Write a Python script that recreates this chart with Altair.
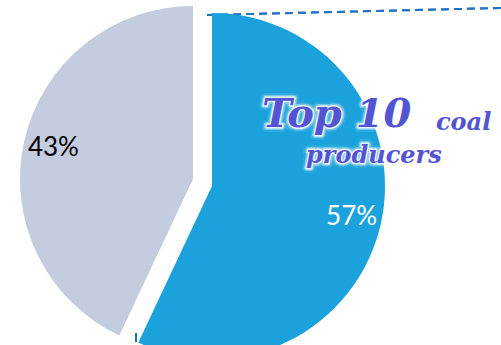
import altair as alt
import pandas as pd

categories = ["Top 10 coal producers", "Rest of world"]
values = [57, 43]
labels = ["57%", "43%"]
colors = ["#1BA2DC", "#C4CDE0"]
label_colors = ["#FFFFFF", "#000000"]

df = pd.DataFrame({"cat": categories, "value": values, "label": labels})
df["end"] = df["value"].cumsum()
df["start"] = df["end"] - df["value"]
df["mid"] = (df["start"] + df["end"]) / 2

R = 173
theta_scale = alt.Scale(domain=[0, 100])
color_scale = alt.Scale(domain=categories, range=colors)

centers = {"Top 10 coal producers": (212, 186), "Rest of world": (193, 179)}

layers = []

# callout dashed lines (decoration)
layers.append(
    alt.Chart(df).mark_rule(color="#2272C3", strokeWidth=2, strokeDash=[8, 5]).encode(
        x=alt.value(207), y=alt.value(15), x2=alt.value(501), y2=alt.value(8)
    )
)
layers.append(
    alt.Chart(df).mark_rule(color="#2272C3", strokeWidth=2, strokeDash=[9, 5]).encode(
        x=alt.value(136), y=alt.value(333), x2=alt.value(136), y2=alt.value(360)
    )
)

for cat in categories:
    cx, cy = centers[cat]
    base = alt.Chart(df).transform_filter(alt.datum.cat == cat)
    layers.append(
        base.mark_arc(radius=R).encode(
            theta=alt.Theta("start:Q", scale=theta_scale, stack=None),
            theta2="end:Q",
            color=alt.Color("cat:N", scale=color_scale, legend=None),
            x=alt.value(cx),
            y=alt.value(cy),
        )
    )

for cat, lc in zip(categories, label_colors):
    cx, cy = centers[cat]
    base = alt.Chart(df).transform_filter(alt.datum.cat == cat)
    layers.append(
        base.mark_text(radius=143, font="Lato", fontSize=26, baseline="middle", align="center").encode(
            theta=alt.Theta("mid:Q", scale=theta_scale, stack=None),
            text="label:N",
            color=alt.value(lc),
            x=alt.value(cx),
            y=alt.value(cy),
        )
    )

title_df = pd.DataFrame({
    "t": ["Top 10", "coal", "producers"],
})

title_pos = [("Top 10", 262, 127, 40), ("coal", 436, 130, 24), ("producers", 306, 163, 24)]
for txt, tx, ty, fs in title_pos:
    tb = alt.Chart(title_df).transform_filter(alt.datum.t == txt)
    for sw, op in [(10, 0.3), (6, 0.6), (3, 0.9)]:
        layers.append(
            tb.mark_text(font="DejaVu Serif", fontWeight="bold", fontStyle="italic", fontSize=fs,
                         align="left", baseline="alphabetic", fill="white", stroke="white",
                         strokeWidth=sw, strokeOpacity=op, opacity=op, strokeJoin="round").encode(
                text="t:N", x=alt.value(tx), y=alt.value(ty)
            )
        )
    layers.append(
        tb.mark_text(font="DejaVu Serif", fontWeight="bold", fontStyle="italic", fontSize=fs,
                     align="left", baseline="alphabetic", color="#5453D4").encode(
            text="t:N", x=alt.value(tx), y=alt.value(ty)
        )
    )

chart = alt.layer(*layers).properties(
    width=501, height=345, padding=0, autosize="none", background="white"
).configure_view(stroke=None)

chart.save("out.html", embed_options={"renderer": "svg", "actions": False})
